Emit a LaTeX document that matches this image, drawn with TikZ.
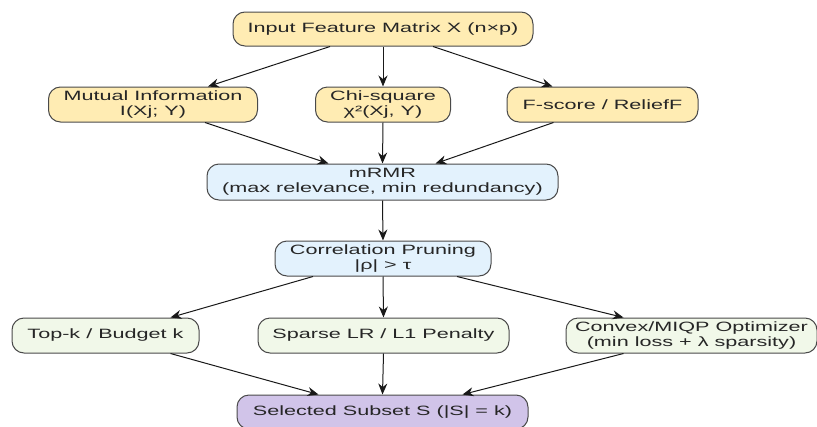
\documentclass[tikz,border=0pt]{standalone}
\usepackage{fontspec}
\setmainfont{Liberation Sans}[FakeStretch=1.6]
\usetikzlibrary{arrows.meta}
\definecolor{cyel}{HTML}{FFECB3}
\definecolor{cblu}{HTML}{E3F2FD}
\definecolor{cgrn}{HTML}{F1F8E9}
\definecolor{cpur}{HTML}{D1C4E9}
\definecolor{cbrd}{HTML}{4A4A4A}
\begin{document}
\begin{tikzpicture}[x=1pt,y=-1pt,
  box/.style={draw=cbrd,line width=1pt,rounded corners=12pt,align=center,
    inner sep=0pt,font=\fontsize{13.5}{14.5}\selectfont,text=black!85},
  arr/.style={draw=black!90,line width=1pt,-{Stealth[length=11pt,width=9pt]}}]
\useasboundingbox (0,0) rectangle (817,426);
\node[box,fill=cyel,minimum width=300pt,minimum height=34pt] (input) at (383,29) {Input Feature Matrix X (n×p)};
\node[box,fill=cyel,minimum width=209pt,minimum height=35pt] (mi) at (153,104.5) {Mutual Information\\I(Xj; Y)};
\node[box,fill=cyel,minimum width=135pt,minimum height=35pt] (chi) at (383,104.5) {Chi-square\\χ²(Xj, Y)};
\node[box,fill=cyel,minimum width=191pt,minimum height=35pt] (fs) at (602.5,104.5) {F-score / ReliefF};
\node[box,fill=cblu,minimum width=351pt,minimum height=36pt] (mrmr) at (382.5,182) {mRMR\\(max relevance, min redundancy)};
\node[box,fill=cblu,minimum width=216pt,minimum height=35pt] (corr) at (383,258.5) {Correlation Pruning\\|ρ| > τ};
\node[box,fill=cgrn,minimum width=187pt,minimum height=35pt] (topk) at (105.5,335.5) {Top-k / Budget k};
\node[box,fill=cgrn,minimum width=251pt,minimum height=35pt] (sparse) at (383.5,335.5) {Sparse LR / L1 Penalty};
\node[box,fill=cgrn,minimum width=251pt,minimum height=35pt] (convex) at (691.5,335.5) {Convex/MIQP Optimizer\\(min loss + λ sparsity)};
\node[box,fill=cpur,minimum width=291pt,minimum height=34pt] (sel) at (382.5,412) {Selected Subset S (|S| = k)};
\draw[arr] ([xshift=-53pt]input.south) -- ([xshift=55pt]mi.north);
\draw[arr] (input.south) -- (chi.north);
\draw[arr] ([xshift=50pt]input.south) -- ([xshift=-50pt]fs.north);
\draw[arr] ([xshift=52pt]mi.south) -- ([xshift=-54pt]mrmr.north);
\draw[arr] (chi.south) -- (mrmr.north);
\draw[arr] ([xshift=-49pt]fs.south) -- ([xshift=53pt]mrmr.north);
\draw[arr] (mrmr.south) -- (corr.north);
\draw[arr] ([xshift=-70pt]corr.south) -- ([xshift=65pt]topk.north);
\draw[arr] (corr.south) -- (sparse.north);
\draw[arr] ([xshift=74pt]corr.south) -- ([xshift=-68pt]convex.north);
\draw[arr] ([xshift=65pt]topk.south) -- ([xshift=-64pt]sel.north);
\draw[arr] (sparse.south) -- (sel.north);
\draw[arr] ([xshift=-68pt]convex.south) -- ([xshift=80pt]sel.north);
\end{tikzpicture}
\end{document}
